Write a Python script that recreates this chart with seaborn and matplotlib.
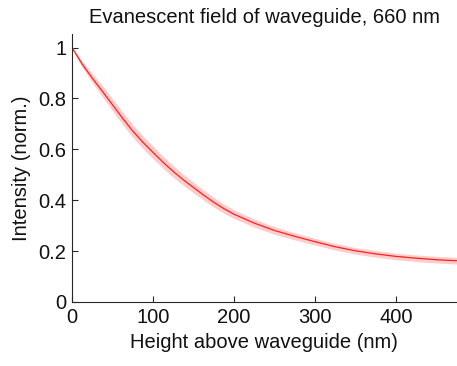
import numpy as np
import pandas as pd
import matplotlib
matplotlib.use("Agg")
import matplotlib.pyplot as plt
import seaborn as sns

# Evanescent field intensity profile above the waveguide (660 nm)
height_nm = [0, 12.5, 25, 37.5, 50, 62.5, 75, 87.5, 100, 112.5, 125, 137.5,
             150, 162.5, 175, 187.5, 200, 225, 250, 275, 300, 325, 350,
             375, 400, 425, 450, 475]
intensity = [1.0, 0.935, 0.88, 0.828, 0.775, 0.722, 0.672, 0.628, 0.588, 0.549,
             0.513, 0.480, 0.450, 0.420, 0.392, 0.367, 0.345, 0.310, 0.281, 0.258,
             0.237, 0.217, 0.201, 0.189, 0.179, 0.172, 0.166, 0.162]
spread = [0.003, 0.012, 0.018, 0.022, 0.024, 0.025, 0.025, 0.025, 0.025, 0.024,
          0.023, 0.022, 0.021, 0.020, 0.019, 0.018, 0.017, 0.016, 0.015, 0.014,
          0.013, 0.013, 0.013, 0.013, 0.013, 0.013, 0.013, 0.013]

x_ticks = [0, 100, 200, 300, 400]
y_ticks = [0, 0.2, 0.4, 0.6, 0.8, 1.0]
y_ticklabels = ["0", "0.2", "0.4", "0.6", "0.8", "1"]

df = pd.DataFrame({"height": height_nm, "intensity": intensity, "spread": spread})

sns.set_theme(style="ticks")
plt.rcParams["font.family"] = ["Liberation Sans", "DejaVu Sans"]

fig = plt.figure(figsize=(4.57, 3.66), dpi=100)
ax = fig.add_axes([0.1575, 0.175, 0.8415, 0.732])

ax.fill_between(df["height"], df["intensity"] - df["spread"], df["intensity"] + df["spread"],
                color="#ffcccc", linewidth=0)
sns.lineplot(data=df, x="height", y="intensity", ax=ax, color="#ff2020", linewidth=0.9)

ax.set_xlim(0, 475)
ax.set_ylim(0, 1.053)
ax.set_xticks(x_ticks)
ax.set_xticklabels([str(t) for t in x_ticks])
ax.set_yticks(y_ticks)
ax.set_yticklabels(y_ticklabels)

for side in ("top", "right"):
    ax.spines[side].set_visible(False)
for side in ("left", "bottom"):
    ax.spines[side].set_color("#262626")
    ax.spines[side].set_linewidth(0.8)
ax.tick_params(direction="in", length=4, width=0.8, color="#262626",
               labelsize=14.5, labelcolor="#111111", pad=4)

ax.set_xlabel("Height above waveguide (nm)", fontsize=14.5, color="#111111", labelpad=5)
ax.set_ylabel("Intensity (norm.)", fontsize=14.5, color="#111111", labelpad=5)
ax.set_title("Evanescent field of waveguide, 660 nm", fontsize=14.5, color="#111111", pad=8)

fig.savefig("out.png", dpi=100)
